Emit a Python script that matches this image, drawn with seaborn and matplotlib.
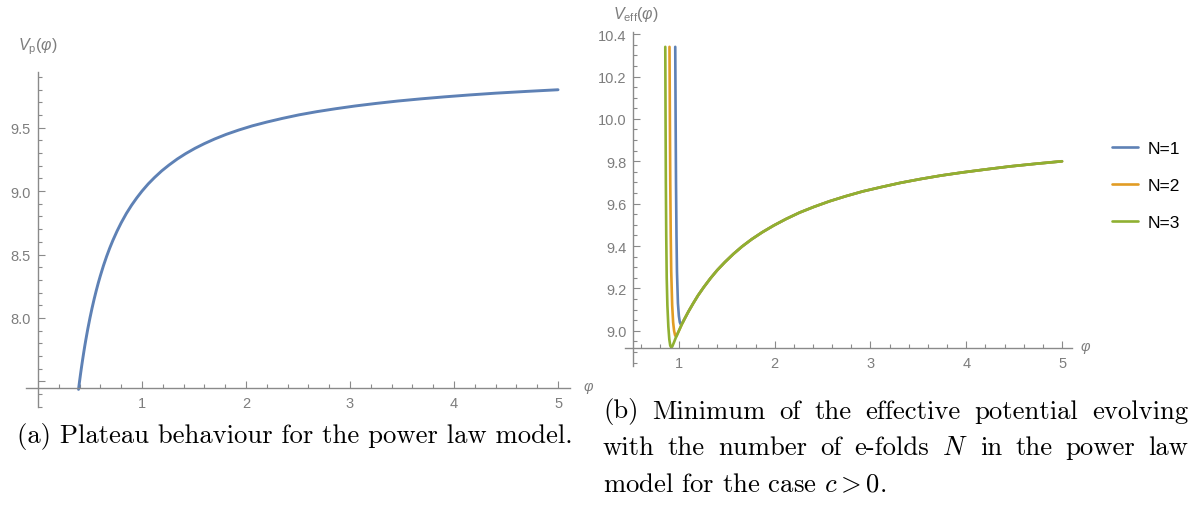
import matplotlib
matplotlib.use("Agg")
import matplotlib.pyplot as plt
from matplotlib.ticker import MultipleLocator, FixedLocator, FuncFormatter
from matplotlib.lines import Line2D
import pandas as pd
import seaborn as sns

# ---- plateau potential V_p(phi) ------------------------------------------
phi_p = [0.39, 0.40, 0.41, 0.42, 0.43, 0.44, 0.45, 0.46, 0.47, 0.48, 0.50,
         0.52, 0.54, 0.56, 0.58, 0.60, 0.63, 0.66, 0.69, 0.72, 0.76, 0.80,
         0.85, 0.90, 0.95, 1.00, 1.06, 1.12, 1.19, 1.26, 1.34, 1.42, 1.51,
         1.60, 1.70, 1.81, 1.93, 2.06, 2.20, 2.35, 2.51, 2.68, 2.86, 3.05,
         3.25, 3.46, 3.68, 3.91, 4.15, 4.40, 4.70, 5.00]
v_p = [7.436, 7.500, 7.561, 7.619, 7.674, 7.727, 7.778, 7.826, 7.872, 7.917,
       8.000, 8.077, 8.148, 8.214, 8.276, 8.333, 8.413, 8.485, 8.551, 8.611,
       8.684, 8.750, 8.824, 8.889, 8.947, 9.000, 9.057, 9.107, 9.160, 9.206,
       9.254, 9.296, 9.338, 9.375, 9.412, 9.448, 9.482, 9.515, 9.545, 9.574,
       9.602, 9.627, 9.650, 9.672, 9.692, 9.711, 9.728, 9.744, 9.759, 9.773,
       9.787, 9.800]

# ---- effective potential: wall + minimum for each N, then a shared branch --
phi_n1 = [0.962, 0.966, 0.970, 0.975, 0.980, 0.990, 1.000, 1.010, 1.020, 1.040]
v_n1 = [10.34, 10.00, 9.70, 9.45, 9.28, 9.13, 9.07, 9.04, 9.03, 9.04]

phi_n2 = [0.902, 0.906, 0.910, 0.915, 0.920, 0.930, 0.940, 0.950, 0.960,
          0.970, 0.980, 1.000, 1.030]
v_n2 = [10.34, 10.00, 9.70, 9.45, 9.28, 9.12, 9.04, 9.00, 8.98, 8.972,
        8.98, 9.00, 9.03]

phi_n3 = [0.858, 0.861, 0.864, 0.868, 0.873, 0.880, 0.890, 0.900, 0.910,
          0.920, 0.930, 0.950, 0.970, 1.000, 1.030]
v_n3 = [10.34, 10.00, 9.70, 9.45, 9.25, 9.12, 9.02, 8.96, 8.93, 8.922,
        8.925, 8.947, 8.97, 9.00, 9.03]

phi_tail = [1.06, 1.10, 1.15, 1.20, 1.26, 1.33, 1.40, 1.48, 1.57, 1.66,
            1.76, 1.87, 1.99, 2.12, 2.26, 2.41, 2.57, 2.74, 2.92, 3.11,
            3.31, 3.52, 3.74, 3.97, 4.21, 4.46, 4.72, 5.00]
v_tail = [9.057, 9.091, 9.130, 9.167, 9.206, 9.248, 9.286, 9.324, 9.363,
          9.398, 9.432, 9.465, 9.497, 9.528, 9.558, 9.585, 9.611, 9.635,
          9.658, 9.678, 9.698, 9.716, 9.733, 9.748, 9.762, 9.776, 9.788,
          9.800]

series_names = ["N=1", "N=2", "N=3"]
series_colors = ["#5E81B5", "#E19C24", "#8FB032"]

caption_a = "(a) Plateau behaviour for the power law model."
caption_b = [
    "(b) Minimum of the effective potential evolving",
    "with the number of e-folds $N$ in the power law",
    "model for the case $c > 0$.",
]

# ---- style ---------------------------------------------------------------
sns.set_theme(style="white")
AX_COL = "#8a8a8a"
LBL_COL = "#7d7d7d"
plt.rcParams.update({
    "font.family": ["Liberation Sans", "DejaVu Sans"],
    "mathtext.fontset": "custom",
    "mathtext.rm": "Liberation Sans",
    "mathtext.it": "Liberation Sans:italic",
    "mathtext.bf": "Liberation Sans:bold",
    "axes.facecolor": "white",
    "figure.facecolor": "white",
    "xtick.bottom": True,
    "ytick.left": True,
})

W, H = 1197, 506
fig = plt.figure(figsize=(W / 100, H / 100), dpi=100)


def px_axes(x0, y0, x1, y1):
    return fig.add_axes([x0 / W, 1 - y1 / H, (x1 - x0) / W, (y1 - y0) / H])


def px_text(x, y, s, **kw):
    return fig.text(x / W, 1 - y / H, s, **kw)


def style_axes(ax, xorig, yorig):
    for s in ("top", "right"):
        ax.spines[s].set_visible(False)
    ax.spines["left"].set_position(("data", xorig))
    ax.spines["bottom"].set_position(("data", yorig))
    for s in ("left", "bottom"):
        ax.spines[s].set_color(AX_COL)
        ax.spines[s].set_linewidth(1.0)
    ax.tick_params(which="both", direction="in", color=AX_COL,
                   labelcolor=LBL_COL, labelsize=10.5, width=0.8,
                   bottom=True, left=True)
    ax.tick_params(which="major", length=5)
    ax.tick_params(which="minor", length=2.8)
    ax.tick_params(axis="x", pad=6)
    ax.tick_params(axis="y", pad=5)
    ax.set_xlabel("")
    ax.set_ylabel("")
    ax.grid(False)


# ---- left panel ----------------------------------------------------------
ax1 = px_axes(26, 73, 570, 408)
df_p = pd.DataFrame({"phi": phi_p, "V": v_p})
sns.lineplot(data=df_p, x="phi", y="V", ax=ax1, color=series_colors[0],
             linewidth=2.1, sort=False, estimator=None)
ax1.set_xlim(-0.115, 5.115)
ax1.set_ylim(7.297, 9.94)
style_axes(ax1, 0.0, 7.447)
ax1.xaxis.set_major_locator(FixedLocator([1, 2, 3, 4, 5]))
ax1.xaxis.set_minor_locator(FixedLocator([v / 10 for v in range(2, 51, 2)
                                          if v % 10]))
ax1.yaxis.set_major_locator(FixedLocator([7.5, 8.0, 8.5, 9.0, 9.5]))
ax1.yaxis.set_major_formatter(
    FuncFormatter(lambda v, p: "" if v < 7.9 else f"{v:.1f}"))
ax1.yaxis.set_minor_locator(FixedLocator([v / 10 for v in range(73, 100)
                                          if v % 5]))
ax1.xaxis.set_major_formatter(FuncFormatter(lambda v, p: f"{v:.0f}"))
px_text(38, 47, r"$V_{\mathrm{p}}(\varphi)$", fontsize=11.5, color=LBL_COL,
        ha="center", va="center")

# ---- right panel ---------------------------------------------------------
ax2 = px_axes(625, 33, 1072, 367)
walls = [(phi_n1, v_n1), (phi_n2, v_n2), (phi_n3, v_n3)]
frames = []
for name, (ph, vv) in zip(series_names, walls):
    frames.append(pd.DataFrame({"phi": list(ph) + phi_tail,
                                "V": list(vv) + v_tail, "N": name}))
df_eff = pd.concat(frames, ignore_index=True)
sns.lineplot(data=df_eff, x="phi", y="V", hue="N", hue_order=series_names,
             palette=series_colors, ax=ax2, linewidth=1.9, sort=False,
             estimator=None, legend=False)
ax2.set_xlim(0.4375, 5.104)
ax2.set_ylim(8.834, 10.41)
style_axes(ax2, 0.525, 8.92)
ax2.xaxis.set_major_locator(FixedLocator([1, 2, 3, 4, 5]))
ax2.xaxis.set_major_formatter(FuncFormatter(lambda v, p: f"{v:.0f}"))
ax2.xaxis.set_minor_locator(FixedLocator([v / 10 for v in range(6, 51, 2)
                                          if v % 10]))
ax2.yaxis.set_major_locator(MultipleLocator(0.2))
ax2.yaxis.set_major_formatter(FuncFormatter(lambda v, p: f"{v:.1f}"))
ax2.yaxis.set_minor_locator(MultipleLocator(0.05))
px_text(636, 14, r"$V_{\mathrm{eff}}(\varphi)$", fontsize=11.5,
        color=LBL_COL, ha="center", va="center")

# axis names at the end of the horizontal axes
for x, y in ((589, 388), (1086, 348)):
    px_text(x, y, r"$\varphi$", fontsize=10.5, color=LBL_COL,
            ha="center", va="center")

# ---- legend --------------------------------------------------------------
handles = [Line2D([0], [0], color=c, lw=1.9) for c in series_colors]
fig.legend(handles, series_names, loc="upper left",
           bbox_to_anchor=(1112 / W, 1 - 142 / H), frameon=False,
           fontsize=12.5, handlelength=1.5, handletextpad=0.55,
           labelspacing=1.25, borderpad=0.0, borderaxespad=0.0,
           labelcolor="black")

# ---- captions ------------------------------------------------------------
CAP = dict(family="cmr10", math_fontfamily="cm", fontsize=19.2, color="black")
px_text(295, 437, caption_a, ha="center", va="center", **CAP)

renderer = fig.canvas.get_renderer()
x_left, x_right = 603, 1188
line_y = [412, 448.5, 485]
for i, line in enumerate(caption_b):
    if i == len(caption_b) - 1:
        px_text(x_left, line_y[i], line, ha="left", va="center", **CAP)
        continue
    words = line.split(" ")
    texts = [px_text(0, line_y[i], w, ha="left", va="center", **CAP)
             for w in words]
    widths = [t.get_window_extent(renderer).width for t in texts]
    gap = (x_right - x_left - sum(widths)) / (len(words) - 1)
    x = x_left
    for t, w in zip(texts, widths):
        t.set_x(x / W)
        x += w + gap

fig.savefig("out.png", dpi=100)
